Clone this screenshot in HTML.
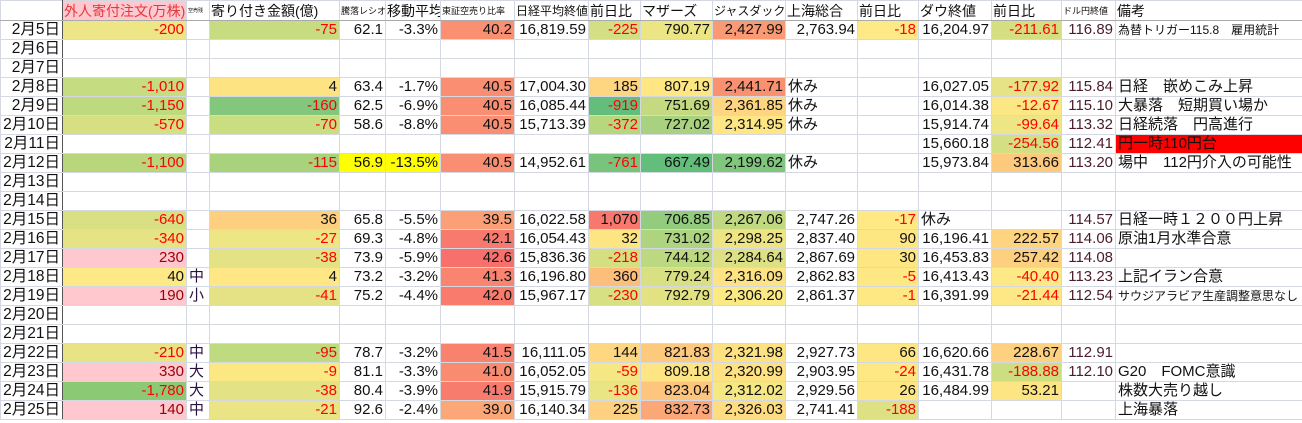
<!DOCTYPE html>
<html><head><meta charset="utf-8"><style>
body{margin:0;background:#fff;width:1302px;height:423px;overflow:hidden}
table{border-collapse:collapse;table-layout:fixed;width:1302px;font-family:"Liberation Sans","Noto Sans CJK JP",sans-serif;font-size:15px;color:#111}
td{border:1px solid #d4d8e0;height:18px;padding:0 2px;text-align:right;white-space:nowrap;overflow:hidden;line-height:18px}
tr.h td{height:19px;text-align:left;font-size:14px;border-bottom:1px solid #aaa;padding:0 1px}
td.a{border-right:1px solid #555;font-size:15.5px}
.r{color:#f00}.l{text-align:left}.s{font-size:9px!important}.m{font-size:12px!important}
.d{color:#4a1c2c}.p{background:#ffc7ce;color:#9c0006}
.c{text-align:left;color:#2a1040}
</style></head><body>
<table>
<colgroup><col style="width:62px"><col style="width:124px"><col style="width:23px"><col style="width:130px"><col style="width:46px"><col style="width:55px"><col style="width:74px"><col style="width:74px"><col style="width:52px"><col style="width:72px"><col style="width:73px"><col style="width:72px"><col style="width:61px"><col style="width:73px"><col style="width:70px"><col style="width:54px"><col style="width:187px"></colgroup>
<tr class="h"><td class="a"></td><td style="background:#ffc7ce;color:#e0393e">外人寄付注文(万株)</td><td class="s" style="font-size:5px!important">空売残</td><td>寄り付き金額(億)</td><td class="s">騰落レシオ</td><td>移動平均</td><td class="s">東証空売り比率</td><td class="m">日経平均終値</td><td>前日比</td><td>マザーズ</td><td class="m">ジャスダック</td><td>上海総合</td><td>前日比</td><td>ダウ終値</td><td>前日比</td><td class="s">ドル円終値</td><td>備考</td></tr>
<tr><td class="a">2月5日</td><td class="r" style="background:#ede586">-200</td><td></td><td class="r" style="background:#c7dc80">-75</td><td>62.1</td><td>-3.3%</td><td style="background:#fa8f72">40.2</td><td>16,819.59</td><td class="r" style="background:#d3df82">-225</td><td style="background:#ece584">790.77</td><td style="background:#fa9a74">2,427.99</td><td>2,763.94</td><td class="r" style="background:#fde985">-18</td><td>16,204.97</td><td class="r" style="background:#d5df82">-211.61</td><td class="d">116.89</td><td class="l m">為替トリガー115.8　雇用統計</td></tr>
<tr><td class="a">2月6日</td><td></td><td></td><td></td><td></td><td></td><td></td><td></td><td></td><td></td><td></td><td></td><td></td><td></td><td></td><td></td><td></td></tr>
<tr><td class="a">2月7日</td><td></td><td></td><td></td><td></td><td></td><td></td><td></td><td></td><td></td><td></td><td></td><td></td><td></td><td></td><td></td><td></td></tr>
<tr><td class="a">2月8日</td><td class="r" style="background:#c6dc80">-1,010</td><td></td><td style="background:#fee383">4</td><td>63.4</td><td>-1.7%</td><td style="background:#fa8e72">40.5</td><td>17,004.30</td><td style="background:#fed581">185</td><td style="background:#fee783">807.19</td><td style="background:#f9906f">2,441.71</td><td class="l">休み</td><td></td><td>16,027.05</td><td class="r" style="background:#e5e385">-177.92</td><td class="d">115.84</td><td class="l">日経　嵌めこみ上昇</td></tr>
<tr><td class="a">2月9日</td><td class="r" style="background:#bddb7e">-1,150</td><td></td><td class="r" style="background:#82c77b">-160</td><td>62.5</td><td>-6.9%</td><td style="background:#fa8e72">40.5</td><td>16,085.44</td><td class="r" style="background:#63be7b">-919</td><td style="background:#c3da80">751.69</td><td style="background:#fed580">2,361.85</td><td class="l">休み</td><td></td><td>16,014.38</td><td class="r" style="background:#fbe784">-12.67</td><td class="d">115.10</td><td class="l">大暴落　短期買い場か</td></tr>
<tr><td class="a">2月10日</td><td class="r" style="background:#d6df82">-570</td><td></td><td class="r" style="background:#cbdd81">-70</td><td>58.6</td><td>-8.8%</td><td style="background:#fa8e72">40.5</td><td>15,713.39</td><td class="r" style="background:#b7d77f">-372</td><td style="background:#a8d27f">727.02</td><td style="background:#fee684">2,314.95</td><td class="l">休み</td><td></td><td>15,914.74</td><td class="r" style="background:#eee585">-99.64</td><td class="d">113.32</td><td class="l">日経続落　円高進行</td></tr>
<tr><td class="a">2月11日</td><td></td><td></td><td></td><td></td><td></td><td></td><td></td><td></td><td></td><td></td><td></td><td></td><td>15,660.18</td><td class="r" style="background:#d3df82">-254.56</td><td class="d">112.41</td><td class="l" style="background:#ff0000">円一時110円台</td></tr>
<tr><td class="a">2月12日</td><td class="r" style="background:#b8d77d">-1,100</td><td></td><td class="r" style="background:#a8d27c">-115</td><td style="background:#ffff00">56.9</td><td style="background:#ffff00">-13.5%</td><td style="background:#fa8e72">40.5</td><td>14,952.61</td><td class="r" style="background:#78c47d">-761</td><td style="background:#63be7b">667.49</td><td style="background:#80c67d">2,199.62</td><td class="l">休み</td><td></td><td>15,973.84</td><td style="background:#fdc97d">313.66</td><td class="d">113.20</td><td class="l">場中　112円介入の可能性</td></tr>
<tr><td class="a">2月13日</td><td></td><td></td><td></td><td></td><td></td><td></td><td></td><td></td><td></td><td></td><td></td><td></td><td></td><td></td><td></td><td></td></tr>
<tr><td class="a">2月14日</td><td></td><td></td><td></td><td></td><td></td><td></td><td></td><td></td><td></td><td></td><td></td><td></td><td></td><td></td><td></td><td></td></tr>
<tr><td class="a">2月15日</td><td class="r" style="background:#d8e083">-640</td><td></td><td style="background:#fdcf7f">36</td><td>65.8</td><td>-5.5%</td><td style="background:#fba076">39.5</td><td>16,022.58</td><td style="background:#f8786d">1,070</td><td style="background:#93cc7e">706.85</td><td style="background:#c0d980">2,267.06</td><td>2,747.26</td><td class="r" style="background:#fee984">-17</td><td class="l">休み</td><td></td><td class="d">114.57</td><td class="l">日経一時１２００円上昇</td></tr>
<tr><td class="a">2月16日</td><td class="r" style="background:#e6e385">-340</td><td></td><td class="r" style="background:#eee685">-27</td><td>69.3</td><td>-4.8%</td><td style="background:#f87a6e">42.1</td><td>16,054.43</td><td style="background:#fee583">32</td><td style="background:#aed480">731.02</td><td style="background:#ede584">2,298.25</td><td>2,837.40</td><td style="background:#fee783">90</td><td>16,196.41</td><td style="background:#fed480">222.57</td><td class="d">114.06</td><td class="l">原油1月水準合意</td></tr>
<tr><td class="a">2月17日</td><td class="p">230</td><td></td><td class="r" style="background:#e3e284">-38</td><td>73.9</td><td>-5.9%</td><td style="background:#f8706c">42.6</td><td>15,836.36</td><td class="r" style="background:#d5df82">-218</td><td style="background:#bcd880">744.12</td><td style="background:#dde183">2,284.64</td><td>2,867.69</td><td style="background:#fee783">30</td><td>16,453.83</td><td style="background:#fdd07f">257.42</td><td class="d">114.08</td><td></td></tr>
<tr><td class="a">2月18日</td><td style="background:#fde985">40</td><td class="c">中</td><td style="background:#fee784">4</td><td>73.2</td><td>-3.2%</td><td style="background:#f98570">41.3</td><td>16,196.80</td><td style="background:#fcbf7b">360</td><td style="background:#d8e083">779.24</td><td style="background:#fee384">2,316.09</td><td>2,862.83</td><td class="r" style="background:#fee884">-5</td><td>16,413.43</td><td class="r" style="background:#fde985">-40.40</td><td class="d">113.23</td><td class="l">上記イラン合意</td></tr>
<tr><td class="a">2月19日</td><td class="p">190</td><td class="c">小</td><td class="r" style="background:#e4e284">-41</td><td>75.2</td><td>-4.4%</td><td style="background:#f87b6e">42.0</td><td>15,967.17</td><td class="r" style="background:#d7e082">-230</td><td style="background:#e2e283">792.79</td><td style="background:#fbe983">2,306.20</td><td>2,861.37</td><td class="r" style="background:#fee884">-1</td><td>16,391.99</td><td class="r" style="background:#fde885">-21.44</td><td class="d">112.54</td><td class="l m">サウジアラビア生産調整意思なし</td></tr>
<tr><td class="a">2月20日</td><td></td><td></td><td></td><td></td><td></td><td></td><td></td><td></td><td></td><td></td><td></td><td></td><td></td><td></td><td></td><td></td></tr>
<tr><td class="a">2月21日</td><td></td><td></td><td></td><td></td><td></td><td></td><td></td><td></td><td></td><td></td><td></td><td></td><td></td><td></td><td></td><td></td></tr>
<tr><td class="a">2月22日</td><td class="r" style="background:#e8e486">-210</td><td class="c">中</td><td class="r" style="background:#bedb7f">-95</td><td>78.7</td><td>-3.2%</td><td style="background:#f9826f">41.5</td><td>16,111.05</td><td style="background:#fed780">144</td><td style="background:#fdc97d">821.83</td><td style="background:#fee181">2,321.98</td><td>2,927.73</td><td style="background:#fee783">66</td><td>16,620.66</td><td style="background:#fdd17f">228.67</td><td class="d">112.91</td><td></td></tr>
<tr><td class="a">2月23日</td><td class="p">330</td><td class="c">大</td><td class="r" style="background:#fce883">-9</td><td>81.1</td><td>-3.3%</td><td style="background:#f98b71">41.0</td><td>16,052.05</td><td class="r" style="background:#f5e884">-59</td><td style="background:#fee583">809.18</td><td style="background:#fee282">2,320.99</td><td>2,903.95</td><td class="r" style="background:#fee884">-24</td><td>16,431.78</td><td class="r" style="background:#ccdd82">-188.88</td><td class="d">112.10</td><td class="l">G20　FOMC意識</td></tr>
<tr><td class="a">2月24日</td><td class="r" style="background:#8cc974">-1,780</td><td class="c">大</td><td class="r" style="background:#e3e284">-38</td><td>80.4</td><td>-3.9%</td><td style="background:#f87c6e">41.9</td><td>15,915.79</td><td class="r" style="background:#e9e584">-136</td><td style="background:#fdc57d">823.04</td><td style="background:#f4e784">2,312.02</td><td>2,929.56</td><td style="background:#fee783">26</td><td>16,484.99</td><td style="background:#fee583">53.21</td><td></td><td class="l">株数大売り越し</td></tr>
<tr><td class="a">2月25日</td><td class="p">140</td><td class="c">中</td><td class="r" style="background:#eae484">-21</td><td>92.6</td><td>-2.4%</td><td style="background:#fba778">39.0</td><td>16,140.34</td><td style="background:#fed180">225</td><td style="background:#fba777">832.73</td><td style="background:#fedc81">2,326.03</td><td>2,741.41</td><td class="r" style="background:#dde183">-188</td><td></td><td></td><td></td><td class="l">上海暴落</td></tr>
</table>
</body></html>
